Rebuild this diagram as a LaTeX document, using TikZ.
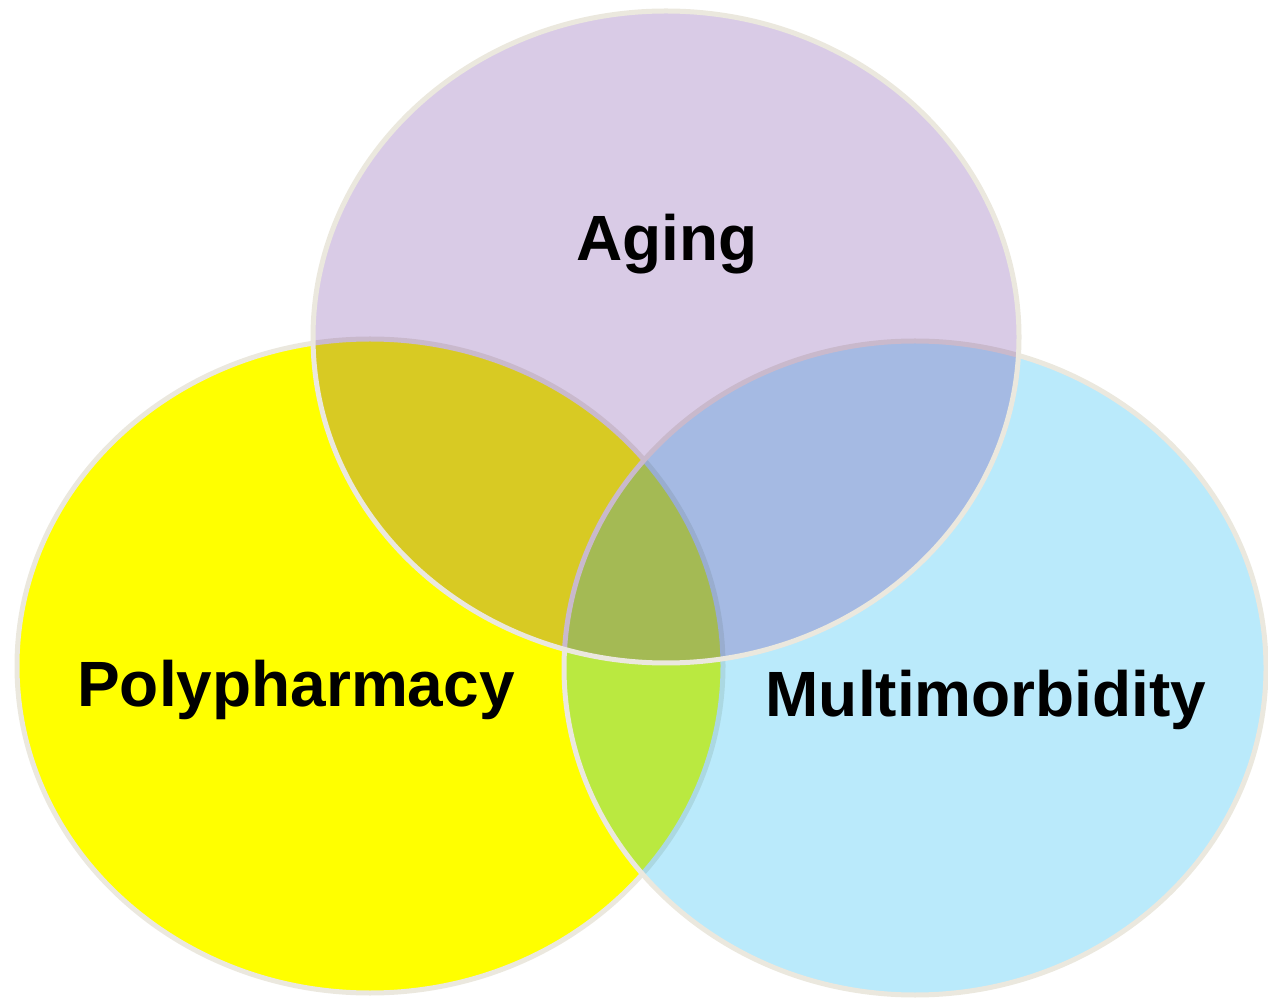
\documentclass[tikz,border=0pt]{standalone}
\usepackage{fontspec}
\setmainfont{Liberation Sans}
\usepackage{tikz}
\definecolor{rimgray}{RGB}{235,232,222}
\definecolor{polyyellow}{RGB}{255,255,0}
\definecolor{multicyan}{RGB}{0,176,240}
\definecolor{agingpurple}{RGB}{96,37,150}

\begin{document}
\begin{tikzpicture}[x=1pt,y=1pt,
    setring/.style={draw=rimgray,line width=5pt},
    setlabel/.style={font=\fontsize{64}{70}\selectfont\bfseries,inner sep=0pt}]
    \useasboundingbox (0,0) rectangle (1268,999);

    % Sets
    \draw[setring,fill=polyyellow] (370,333) ellipse (353 and 327);
    \draw[setring,fill=multicyan,fill opacity=0.27] (915,331) ellipse (351 and 327);
    \draw[setring,fill=agingpurple,fill opacity=0.24] (666,662) ellipse (353 and 326);

    % Labels
    \node[setlabel] (aging) at (667,755) {Aging};
    \node[setlabel] (poly) at (296,309) {Polypharmacy};
    \node[setlabel] (multi) at (986,299) {Multimorbidity};
\end{tikzpicture}
\end{document}
